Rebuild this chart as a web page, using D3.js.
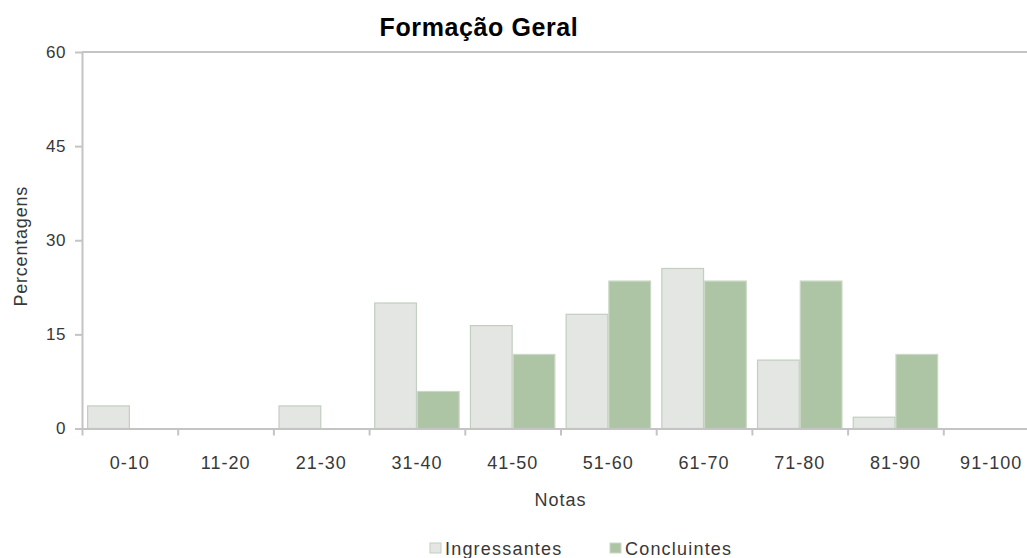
<!DOCTYPE html>
<html>
<head>
<meta charset="utf-8">
<script src="https://cdn.jsdelivr.net/npm/d3@7"></script>
<style>
  body { margin: 0; background: #fff; }
  svg { display: block; font-family: "Liberation Sans", Arial, sans-serif; }
</style>
</head>
<body>
<div id="chart"></div>
<script>
// data
const categories = ["0-10", "11-20", "21-30", "31-40", "41-50", "51-60", "61-70", "71-80", "81-90", "91-100"];
const seriesNames = ["Ingressantes", "Concluintes"];
const ingressantes = [3.6, 0, 3.6, 20.0, 16.4, 18.2, 25.5, 10.9, 1.8, 0];
const concluintes  = [0, 0, 0, 5.9, 11.8, 23.5, 23.5, 23.5, 11.8, 0];
const yTicks = [0, 15, 30, 45, 60];

const colors = { Ingressantes: "#e3e6e2", Concluintes: "#adc4a5" };
const strokes = { Ingressantes: "#c2cec1", Concluintes: "#cbd8c6" };
const textColor = "#383838";

const W = 1027, H = 558;
const plotLeft = 82, plotRight = 1039, plotTop = 52, plotBottom = 428.5;

const svg = d3.select("#chart").append("svg")
  .attr("width", W)
  .attr("height", H);

// scales
const x0 = d3.scaleBand().domain(categories).range([plotLeft, plotRight]).padding(0);
const x1 = d3.scaleBand().domain(seriesNames).range([0, x0.bandwidth()])
  .paddingInner(0).paddingOuter(0.12);
const xEdge = d3.scaleLinear().domain([0, categories.length]).range([plotLeft, plotRight]);
const y = d3.scaleLinear().domain([0, 60]).range([plotBottom, plotTop]);

const rows = categories.map((c, i) => ({
  cat: c,
  values: [
    { key: "Ingressantes", value: ingressantes[i] },
    { key: "Concluintes", value: concluintes[i] }
  ]
}));

// top border line of plot area
svg.append("line")
  .attr("x1", plotLeft).attr("x2", plotRight)
  .attr("y1", y(60)).attr("y2", y(60))
  .attr("stroke", "#c4c4c4")
  .attr("stroke-width", 2);

// bars
const groups = svg.append("g").selectAll("g")
  .data(rows)
  .join("g")
    .attr("transform", d => `translate(${x0(d.cat)},0)`);

groups.selectAll("rect")
  .data(d => d.values.filter(v => v.value > 0))
  .join("rect")
    .attr("x", d => x1(d.key) + 0.5)
    .attr("y", d => y(d.value))
    .attr("width", x1.bandwidth() - 1)
    .attr("height", d => y(0) - y(d.value))
    .attr("fill", d => colors[d.key])
    .attr("stroke", d => strokes[d.key])
    .attr("stroke-width", 1.2);

// y axis
const yAxisG = svg.append("g")
  .attr("transform", `translate(${plotLeft},0)`)
  .call(d3.axisLeft(y).tickValues(yTicks).tickSize(7).tickPadding(9).tickSizeOuter(0));
yAxisG.selectAll("path, line").attr("stroke", "#c4c4c4").attr("stroke-width", 2);
yAxisG.selectAll("text")
  .attr("fill", textColor)
  .attr("font-size", "17px")
  .attr("letter-spacing", "0.5px")
  .attr("font-family", "'Liberation Sans', Arial, sans-serif");

// x axis: boundary ticks
const xTickG = svg.append("g")
  .attr("transform", `translate(0,${plotBottom})`)
  .call(d3.axisBottom(xEdge).tickValues(d3.range(categories.length + 1)).tickSize(7).tickFormat("").tickSizeOuter(0));
xTickG.selectAll("path, line").attr("stroke", "#c4c4c4").attr("stroke-width", 2);

// x axis: category labels
const xLabG = svg.append("g")
  .attr("transform", `translate(0,${plotBottom})`)
  .call(d3.axisBottom(x0).tickSize(0).tickPadding(28));
xLabG.select(".domain").remove();
xLabG.selectAll("text")
  .attr("fill", textColor)
  .attr("font-size", "18px")
  .attr("letter-spacing", "1px")
  .attr("font-family", "'Liberation Sans', Arial, sans-serif");

// title
svg.append("text")
  .attr("x", 479)
  .attr("y", 36)
  .attr("text-anchor", "middle")
  .attr("font-size", "25px")
  .attr("font-weight", "bold")
  .attr("letter-spacing", "0.6px")
  .attr("fill", "#000")
  .text("Formação Geral");

// axis titles
svg.append("text")
  .attr("x", (plotLeft + plotRight) / 2)
  .attr("y", 506)
  .attr("text-anchor", "middle")
  .attr("font-size", "18px")
  .attr("letter-spacing", "1px")
  .attr("fill", textColor)
  .text("Notas");

svg.append("text")
  .attr("transform", `translate(27,${(plotTop + plotBottom) / 2 + 6}) rotate(-90)`)
  .attr("text-anchor", "middle")
  .attr("font-size", "18px")
  .attr("letter-spacing", "0.8px")
  .attr("fill", textColor)
  .text("Percentagens");

// legend
const legendX = [430, 610];
const legend = svg.append("g").selectAll("g")
  .data(seriesNames)
  .join("g")
    .attr("transform", (d, i) => `translate(${legendX[i]},543)`);
legend.append("rect")
  .attr("width", 11).attr("height", 10)
  .attr("fill", d => colors[d])
  .attr("stroke", d => strokes[d]);
legend.append("text")
  .attr("x", 15)
  .attr("y", 12)
  .attr("font-size", "18px")
  .attr("letter-spacing", "1.2px")
  .attr("fill", textColor)
  .text(d => d);
</script>
</body>
</html>
